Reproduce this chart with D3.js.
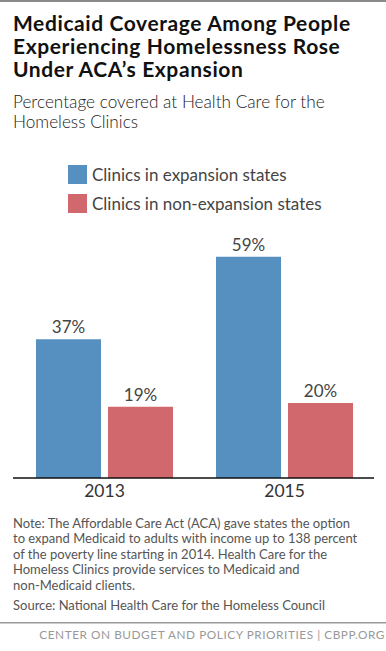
<!DOCTYPE html>
<html>
<head>
<meta charset="utf-8">
<script src="https://cdn.jsdelivr.net/npm/d3@7"></script>
<style>
  body { margin: 0; background: #fff; }
  text { font-family: "Lato", "Open Sans", sans-serif; }
</style>
</head>
<body>
<div id="chart"></div>
<script>
const WIDTH = 386, HEIGHT = 651;

// data
const years = ["2013", "2015"];
const seriesNames = ["Clinics in expansion states", "Clinics in non-expansion states"];
const expansion = [37, 59];
const nonExpansion = [19, 20];
const colors = ["#5590c1", "#d0686d"];

const titleLines = ["Medicaid Coverage Among People", "Experiencing Homelessness Rose", "Under ACA\u2019s Expansion"];
const subtitleLines = ["Percentage covered at Health Care for the", "Homeless Clinics"];
const noteLines = [
  "Note: The Affordable Care Act (ACA) gave states the option",
  "to expand Medicaid to adults with income up to 138 percent",
  "of the poverty line starting in 2014. Health Care for the",
  "Homeless Clinics provide services to Medicaid and",
  "non-Medicaid clients."
];
const sourceText = "Source: National Health Care for the Homeless Council";
const footerText = "CENTER ON BUDGET AND POLICY PRIORITIES | CBPP.ORG";

let data = years.map(function(y, i) {
  return { year: y, values: [expansion[i], nonExpansion[i]] };
});

let svg = d3.select("#chart")
  .append("svg")
  .attr("width", WIDTH)
  .attr("height", HEIGHT);

// top rule
svg.append("rect")
  .attr("x", 0).attr("y", 0)
  .attr("width", WIDTH).attr("height", 2)
  .attr("fill", "#8a8a8a");

// title
svg.append("g").selectAll("text")
  .data(titleLines)
  .enter()
  .append("text")
  .attr("x", 13)
  .attr("y", function(d, i) { return 31 + i * 23.2; })
  .style("font-size", "21px")
  .style("font-weight", 700)
  .style("letter-spacing", "0.6px")
  .attr("fill", "#111")
  .text(function(d) { return d; });

// subtitle
svg.append("g").selectAll("text")
  .data(subtitleLines)
  .enter()
  .append("text")
  .attr("x", 13)
  .attr("y", function(d, i) { return 108 + i * 20; })
  .style("font-size", "17.2px")
  .style("font-weight", 300)
  .attr("fill", "#222")
  .text(function(d) { return d; });

// legend
let legend = svg.append("g").selectAll("g")
  .data(seriesNames)
  .enter()
  .append("g")
  .attr("transform", function(d, i) { return `translate(68, ${165 + i * 29})`; });

legend.append("rect")
  .attr("width", 19).attr("height", 19)
  .attr("fill", function(d, i) { return colors[i]; });

legend.append("text")
  .attr("x", 24)
  .attr("y", 16)
  .style("font-size", "17px")
  .style("font-weight", 400)
  .attr("fill", "#444")
  .text(function(d) { return d; });

// scales
let x0 = d3.scaleBand()
  .domain(years)
  .range([14, 375])
  .paddingInner(0.239)
  .paddingOuter(0.122);

let x1 = d3.scaleBand()
  .domain(d3.range(seriesNames.length))
  .range([0, x0.bandwidth()])
  .paddingInner(0.097);

let y = d3.scaleLinear()
  .domain([0, 60])
  .range([478, 253]);

let groups = svg.append("g").selectAll("g")
  .data(data)
  .enter()
  .append("g")
  .attr("transform", function(d) { return `translate(${x0(d.year)}, 0)`; });

groups.selectAll("rect")
  .data(function(d) { return d.values; })
  .enter()
  .append("rect")
  .attr("x", function(d, i) { return x1(i); })
  .attr("y", function(d) { return y(d); })
  .attr("width", x1.bandwidth())
  .attr("height", function(d) { return y(0) - y(d); })
  .attr("fill", function(d, i) { return colors[i]; });

groups.selectAll("text")
  .data(function(d) { return d.values; })
  .enter()
  .append("text")
  .attr("x", function(d, i) { return x1(i) + x1.bandwidth() / 2; })
  .attr("y", function(d) { return y(d) - 6; })
  .style("text-anchor", "middle")
  .style("font-size", "17px")
  .style("font-weight", 400)
  .attr("fill", "#444")
  .text(function(d) { return d + "%"; });

// x axis
let xAxis = svg.append("g")
  .attr("transform", `translate(0, ${y(0)})`)
  .call(d3.axisBottom(x0).tickSize(0).tickPadding(7).tickSizeOuter(0));

xAxis.select(".domain")
  .attr("d", "M13,0H374")
  .attr("stroke", "#111")
  .attr("stroke-width", 1.5);

xAxis.selectAll(".tick text")
  .style("font-family", "Lato, sans-serif")
  .style("font-size", "17.5px")
  .style("font-weight", 400)
  .attr("fill", "#333");

// notes
svg.append("g").selectAll("text")
  .data(noteLines)
  .enter()
  .append("text")
  .attr("x", 13)
  .attr("y", function(d, i) { return 528 + i * 15.4; })
  .style("font-size", "13px")
  .attr("fill", "#555")
  .text(function(d) { return d; });

svg.append("text")
  .attr("x", 13)
  .attr("y", 610)
  .style("font-size", "13px")
  .attr("fill", "#555")
  .text(sourceText);

// bottom rule + footer
svg.append("rect")
  .attr("x", 0).attr("y", 622)
  .attr("width", WIDTH).attr("height", 1.5)
  .attr("fill", "#999");

svg.append("text")
  .attr("x", 385)
  .attr("y", 639)
  .style("text-anchor", "end")
  .style("font-size", "11.8px")
  .style("letter-spacing", "0.55px")
  .attr("fill", "#999")
  .text(footerText);
</script>
</body>
</html>
